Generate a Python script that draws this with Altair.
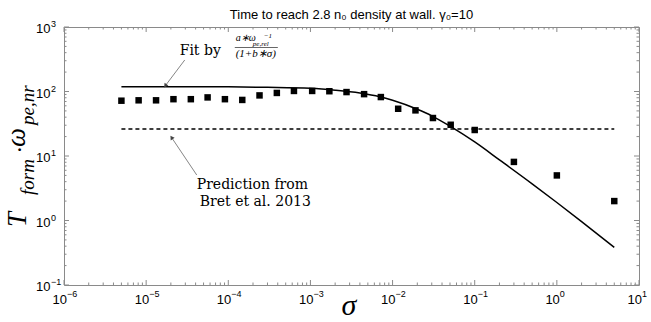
import altair as alt
import pandas as pd

# Simulation results: formation time vs magnetisation sigma
sigma_pts = [5.0e-6, 8.1e-6, 1.32e-5, 2.15e-5, 3.5e-5, 5.6e-5, 9.1e-5, 1.48e-4,
             2.4e-4, 3.9e-4, 6.3e-4, 1.05e-3, 1.7e-3, 2.75e-3, 4.5e-3, 7.2e-3,
             1.17e-2, 1.9e-2, 3.1e-2, 5.1e-2, 0.1, 0.3, 1.0, 5.0]
t_form = [72, 73, 73, 76, 76, 81, 76, 74, 87, 95, 102, 102, 101, 98, 91, 82,
          54, 51, 38.8, 30.5, 25.3, 8.1, 5.0, 2.0]

# Fit a*w^-1/(1+b*sigma), sampled along sigma
fit_sigma = [5e-6, 1e-5, 3e-5, 1e-4, 3e-4, 1e-3, 2e-3, 4e-3, 7e-3, 1e-2, 2e-2,
             3e-2, 5e-2, 0.1, 0.2, 0.5, 1.0, 2.0, 5.0]
fit_t = [119, 119, 119, 118, 116, 112, 105, 95, 83, 73, 53, 42, 29, 16.5, 8.7,
         3.7, 1.9, 0.96, 0.384]

# Prediction from Bret et al. 2013
pred_sigma = [5e-6, 5.0]
pred_t = [26.2, 26.2]

# Axis decades and minor tick multipliers
x_decades = [-6, -5, -4, -3, -2, -1, 0, 1]
y_decades = [-1, 0, 1, 2, 3]
minor_mult = [2, 3, 4, 5, 6, 7, 8, 9]

W, H = 575, 258
xs = alt.Scale(type="log", domain=[1e-6, 10], nice=False)
ys = alt.Scale(type="log", domain=[0.1, 1000], nice=False)
FRAME = "#8a8a8a"
SERIF = "Liberation Serif"
NOTE = "DejaVu Serif"
SANS = "Liberation Sans"


def X(field="x"):
    return alt.X(f"{field}:Q", scale=xs, axis=None)


def Y(field="y"):
    return alt.Y(f"{field}:Q", scale=ys, axis=None)


def minus(e):
    return str(e).replace("-", "\u2212")


x_major = pd.DataFrame({"x": [10.0 ** e for e in x_decades],
                        "e": [minus(e) for e in x_decades]})
y_major = pd.DataFrame({"y": [10.0 ** e for e in y_decades],
                        "e": [minus(e) for e in y_decades]})
x_minor = pd.DataFrame({"x": [m * 10.0 ** e for e in x_decades[:-1] for m in minor_mult]})
y_minor = pd.DataFrame({"y": [m * 10.0 ** e for e in y_decades[:-1] for m in minor_mult]})

layers = []

# inward ticks on all four sides
for df, ln in ((x_major, 5), (x_minor, 2.5)):
    for y0, y1 in ((0, ln), (H, H - ln)):
        layers.append(alt.Chart(df).mark_rule(color=FRAME, strokeWidth=1).encode(
            x=X(), y=alt.value(y0), y2=alt.value(y1)))
for df, ln in ((y_major, 5), (y_minor, 2.5)):
    for x0, x1 in ((0, ln), (W, W - ln)):
        layers.append(alt.Chart(df).mark_rule(color=FRAME, strokeWidth=1).encode(
            y=Y(), x=alt.value(x0), x2=alt.value(x1)))

# tick labels "10" with raised exponent
layers.append(alt.Chart(x_major).mark_text(font=SANS, fontSize=13, align="right",
                                           baseline="alphabetic", dx=3).encode(
    x=X(), y=alt.value(H + 19), text=alt.value("10")))
layers.append(alt.Chart(x_major).mark_text(font=SANS, fontSize=9, align="left",
                                           baseline="alphabetic", dx=3).encode(
    x=X(), y=alt.value(H + 12), text="e:N"))
layers.append(alt.Chart(y_major).mark_text(font=SANS, fontSize=13, align="right",
                                           baseline="alphabetic", dy=6).encode(
    y=Y(), x=alt.value(-13.5), text=alt.value("10")))
layers.append(alt.Chart(y_major).mark_text(font=SANS, fontSize=9, align="left",
                                           baseline="alphabetic", dy=0).encode(
    y=Y(), x=alt.value(-13), text="e:N"))

# data
pts = pd.DataFrame({"x": sigma_pts, "y": t_form})
fit = pd.DataFrame({"x": fit_sigma, "y": fit_t})
pred = pd.DataFrame({"x": pred_sigma, "y": pred_t})

layers.append(alt.Chart(pred).mark_line(color="black", strokeWidth=1.3,
                                        strokeDash=[4, 3]).encode(x=X(), y=Y()))
layers.append(alt.Chart(fit).mark_line(color="black", strokeWidth=1.5,
                                       interpolate="monotone").encode(x=X(), y=Y()))
layers.append(alt.Chart(pts).mark_square(size=42, color="black", opacity=1).encode(
    x=X(), y=Y()))

# annotation arrows
arrows = pd.DataFrame({"x": [2.95e-5, 4.13e-5], "y": [308, 5.07],
                       "x2": [1.73e-5, 2.06e-5], "y2": [125, 19.0],
                       "ang": [216, 326]})
layers.append(alt.Chart(arrows).mark_rule(color="#666666", strokeWidth=0.8).encode(
    x=X(), y=Y(), x2="x2:Q", y2="y2:Q"))
layers.append(alt.Chart(arrows).mark_point(shape="triangle", filled=True, size=22,
                                           color="#444444", opacity=1).encode(
    x=X("x2"), y=Y("y2"), angle=alt.Angle("ang:Q", scale=None)))

# annotation texts
notes = pd.DataFrame({
    "x": [2.56e-5, 4.13e-5, 4.5e-5],
    "y": [368, 3.08, 1.68],
    "t": ["Fit by", "Prediction from", "Bret et al. 2013"],
})
layers.append(alt.Chart(notes).mark_text(font=NOTE, fontSize=14, align="left",
                                         baseline="alphabetic", color="black").encode(
    x=X(), y=Y(), text="t:N"))
# fraction a*w^-1_{pe,rel} / (1+b*sigma)
frac_txt = pd.DataFrame({
    "x": [1.23e-4, 2.70e-4, 1.99e-4, 1.23e-4],
    "y": [607, 675, 499, 337],
    "t": ["a\u2217\u03c9", "\u22121", "pe,rel", "(1+b\u2217\u03c3)"],
    "s": [10, 7, 7, 11],
})
layers.append(alt.Chart(frac_txt).mark_text(font=SERIF, fontStyle="italic", align="left",
                                            baseline="alphabetic", color="black").encode(
    x=X(), y=Y(), text="t:N", size=alt.Size("s:Q", scale=None)))
frac = pd.DataFrame({"x": [1.20e-4], "x2": [4.01e-4], "y": [481]})
layers.append(alt.Chart(frac).mark_rule(color="black", strokeWidth=0.6).encode(
    x=X(), x2="x2:Q", y=Y()))

# axis titles (rotated pieces of T_form . omega_pe,nr, and sigma)
ytitle = [("T", -38, 200, 27), ("form", -30, 168, 19), ("\u00b7", -37, 126, 24),
          ("\u03c9", -39, 120, 27), ("pe,nr", -30, 98, 19)]
for t, px, py, s in ytitle:
    layers.append(alt.Chart(pd.DataFrame({"t": [t]})).mark_text(
        font=SERIF, fontStyle="italic", fontSize=s,
        align="left", baseline="alphabetic").encode(
        x=alt.value(px), y=alt.value(py), text="t:N", angle=alt.value(270)))
layers.append(alt.Chart(pd.DataFrame({"t": ["\u03c3"]})).mark_text(
    font=SERIF, fontStyle="italic", fontSize=30, align="center",
    baseline="alphabetic").encode(x=alt.value(285), y=alt.value(288), text="t:N"))

chart = alt.layer(*layers).properties(
    width=W, height=H,
    title=alt.TitleParams("Time to reach 2.8 n\u2080 density at wall. \u03b3\u2080=10",
                          font=SANS, fontSize=13, fontWeight="normal",
                          anchor="middle", offset=-2, color="black"),
    padding={"left": 64, "top": 27, "right": 12, "bottom": 37},
    autosize=alt.AutoSizeParams(type="none"),
).configure_view(stroke=FRAME, strokeWidth=1)

chart.save("out.html", embed_options={"renderer": "svg", "actions": False})
